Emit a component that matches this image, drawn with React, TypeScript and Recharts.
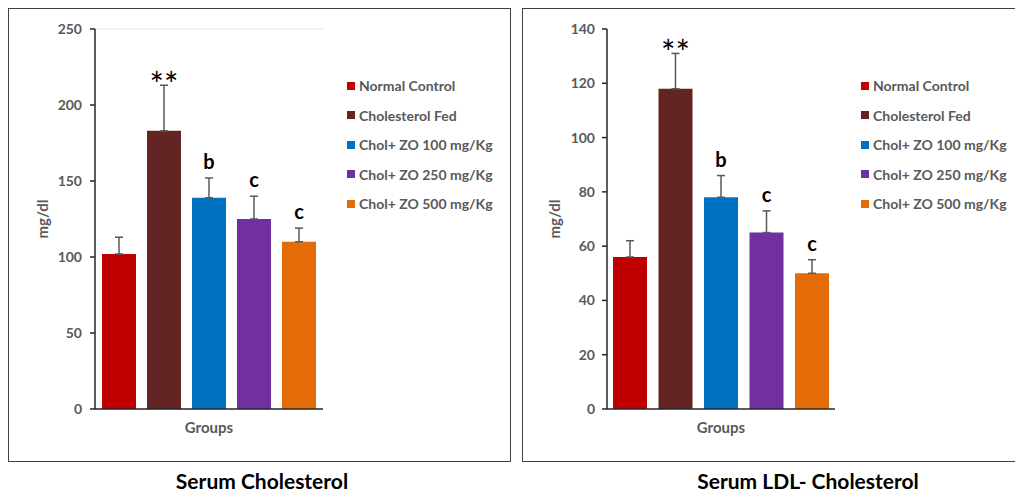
import React from "react";
import {
  BarChart,
  Bar,
  XAxis,
  YAxis,
  ErrorBar,
  Legend,
  CartesianGrid,
} from "recharts";

const groups = [
  "Normal Control",
  "Cholesterol Fed",
  "Chol+ ZO 100 mg/Kg",
  "Chol+ ZO 250 mg/Kg",
  "Chol+ ZO 500 mg/Kg",
];
const colors = ["#C00000", "#632523", "#0070C0", "#7030A0", "#E36C09"];
const marks = ["", "**", "b", "c", "c"];

const cholMeans = [102, 183, 139, 125, 110];
const cholErrors = [11, 30, 13, 15, 9];
const cholTicks = [0, 50, 100, 150, 200, 250];
const cholGrid = [
  10, 20, 30, 40, 50, 60, 70, 80, 90, 100, 110, 120, 130, 140, 150, 160, 170,
  180, 190, 200, 210, 220, 230, 240, 250,
];

const ldlMeans = [56, 118, 78, 65, 50];
const ldlErrors = [6, 13, 8, 8, 5];
const ldlTicks = [0, 20, 40, 60, 80, 100, 120, 140];

const FONT = "Lato, 'Open Sans', sans-serif";
const GRAY = "#595959";
const AXIS = "#262626";

function buildRow(means: number[], errors: number[]) {
  const row: Record<string, any> = { name: "Groups" };
  means.forEach((m, i) => {
    row[`s${i}`] = m;
    row[`e${i}`] = [0, errors[i]];
  });
  return row;
}

// text sitting above the error bar cap
function markLabel(mark: string, err: number) {
  return (props: any) => {
    const { x, y, width, height, value } = props;
    if (!mark || !value) return null;
    const top = y - (err * height) / value;
    const stars = mark === "**";
    return (
      <text
        x={x + width / 2}
        y={stars ? top + 12 : top - 9}
        textAnchor="middle"
        fontFamily={FONT}
        fontSize={stars ? 34 : 20}
        fontWeight={stars ? 400 : 700}
        fill="#000"
      >
        {mark}
      </text>
    );
  };
}

function LegendBox() {
  return (
    <div style={{ fontFamily: FONT, fontSize: 14, fontWeight: 700, color: GRAY }}>
      {groups.map((g, i) => (
        <div
          key={g}
          style={{ display: "flex", alignItems: "center", height: 29.5, whiteSpace: "nowrap" }}
        >
          <span
            style={{
              width: 8,
              height: 8,
              background: colors[i],
              marginRight: 4,
              display: "inline-block",
            }}
          />
          {g}
        </div>
      ))}
    </div>
  );
}

interface PanelProps {
  means: number[];
  errors: number[];
  ticks: number[];
  grid?: number[];
  width: number;
  axisWidth: number;
  tickMargin: number;
  labelOffset: number;
  barGap: number;
  legendLeft: number;
}

function GroupChart({
  means,
  errors,
  ticks,
  grid,
  width,
  axisWidth,
  tickMargin,
  labelOffset,
  barGap,
  legendLeft,
}: PanelProps) {
  const data = [buildRow(means, errors)];
  const plotRight = axisWidth + 228;
  const max = ticks[ticks.length - 1];
  return (
    <BarChart
      width={width}
      height={454}
      data={data}
      margin={{ top: 21, right: width - plotRight, left: 0, bottom: 13 }}
      barGap={barGap}
    >
      {grid && (
        <YAxis yAxisId="grid" hide domain={[0, max]} ticks={grid} interval={0} />
      )}
      {grid && (
        <CartesianGrid yAxisId="grid" vertical={false} stroke="#e6e6e6" />
      )}
      <XAxis
        dataKey="name"
        tick={false}
        tickLine={false}
        axisLine={{ stroke: AXIS, strokeWidth: 1.5 }}
        height={40}
        label={{
          value: "Groups",
          position: "insideTop",
          offset: 13,
          fill: GRAY,
          fontSize: 15,
          fontWeight: 700,
          fontFamily: FONT,
        }}
      />
      <YAxis
        domain={[0, max]}
        ticks={ticks}
        interval={0}
        width={axisWidth}
        tickSize={5}
        tickMargin={tickMargin}
        axisLine={{ stroke: AXIS, strokeWidth: 1.5 }}
        tickLine={{ stroke: AXIS, strokeWidth: 1.5 }}
        tick={{ fill: GRAY, fontSize: 14, fontWeight: 700, fontFamily: FONT }}
        label={{
          value: "mg/dl",
          angle: -90,
          position: "insideLeft",
          offset: labelOffset,
          fill: GRAY,
          fontSize: 15,
          fontWeight: 700,
          fontFamily: FONT,
          style: { textAnchor: "middle" },
        }}
      />
      <Legend
        layout="vertical"
        align="center"
        verticalAlign="middle"
        wrapperStyle={{ left: legendLeft, top: 63, width: 170 }}
        content={() => <LegendBox />}
      />
      {groups.map((g, i) => (
        <Bar
          key={g}
          name={g}
          dataKey={`s${i}`}
          fill={colors[i]}
          barSize={34}
          isAnimationActive={false}
          label={markLabel(marks[i], errors[i])}
        >
          <ErrorBar
            dataKey={`e${i}`}
            width={4}
            stroke="#595959"
            strokeWidth={1.5}
            direction="y"
          />
        </Bar>
      ))}
    </BarChart>
  );
}

const titleStyle: React.CSSProperties = {
  position: "absolute",
  top: 471,
  fontFamily: FONT,
  fontWeight: 700,
  fontSize: 21,
  lineHeight: "19px",
  color: "#000",
  textAlign: "center",
  whiteSpace: "nowrap",
};

export default function App() {
  return (
    <div
      style={{
        position: "fixed",
        left: 0,
        top: 0,
        width: 1015,
        height: 494,
        overflow: "hidden",
        background: "#fff",
      }}
    >
      <div
        style={{
          position: "absolute",
          left: 8,
          top: 8,
          width: 503,
          height: 454,
          border: "1px solid #404040",
          boxSizing: "border-box",
        }}
      />
      <div
        style={{
          position: "absolute",
          left: 522,
          top: 8,
          width: 520,
          height: 454,
          border: "1px solid #404040",
          borderRight: "none",
          boxSizing: "border-box",
        }}
      />
      <div style={{ position: "absolute", left: 8, top: 8 }}>
        <GroupChart
          means={cholMeans}
          errors={cholErrors}
          ticks={cholTicks}
          grid={cholGrid}
          width={503}
          axisWidth={87}
          tickMargin={8}
          labelOffset={35}
          barGap={11}
          legendLeft={339}
        />
      </div>
      <div style={{ position: "absolute", left: 522, top: 8 }}>
        <GroupChart
          means={ldlMeans}
          errors={ldlErrors}
          ticks={ldlTicks}
          width={493}
          axisWidth={85}
          tickMargin={7}
          labelOffset={33}
          barGap={11.5}
          legendLeft={339}
        />
      </div>
      <div style={{ ...titleStyle, left: 142, width: 240 }}>Serum Cholesterol</div>
      <div style={{ ...titleStyle, left: 648, width: 320 }}>Serum LDL- Cholesterol</div>
    </div>
  );
}
